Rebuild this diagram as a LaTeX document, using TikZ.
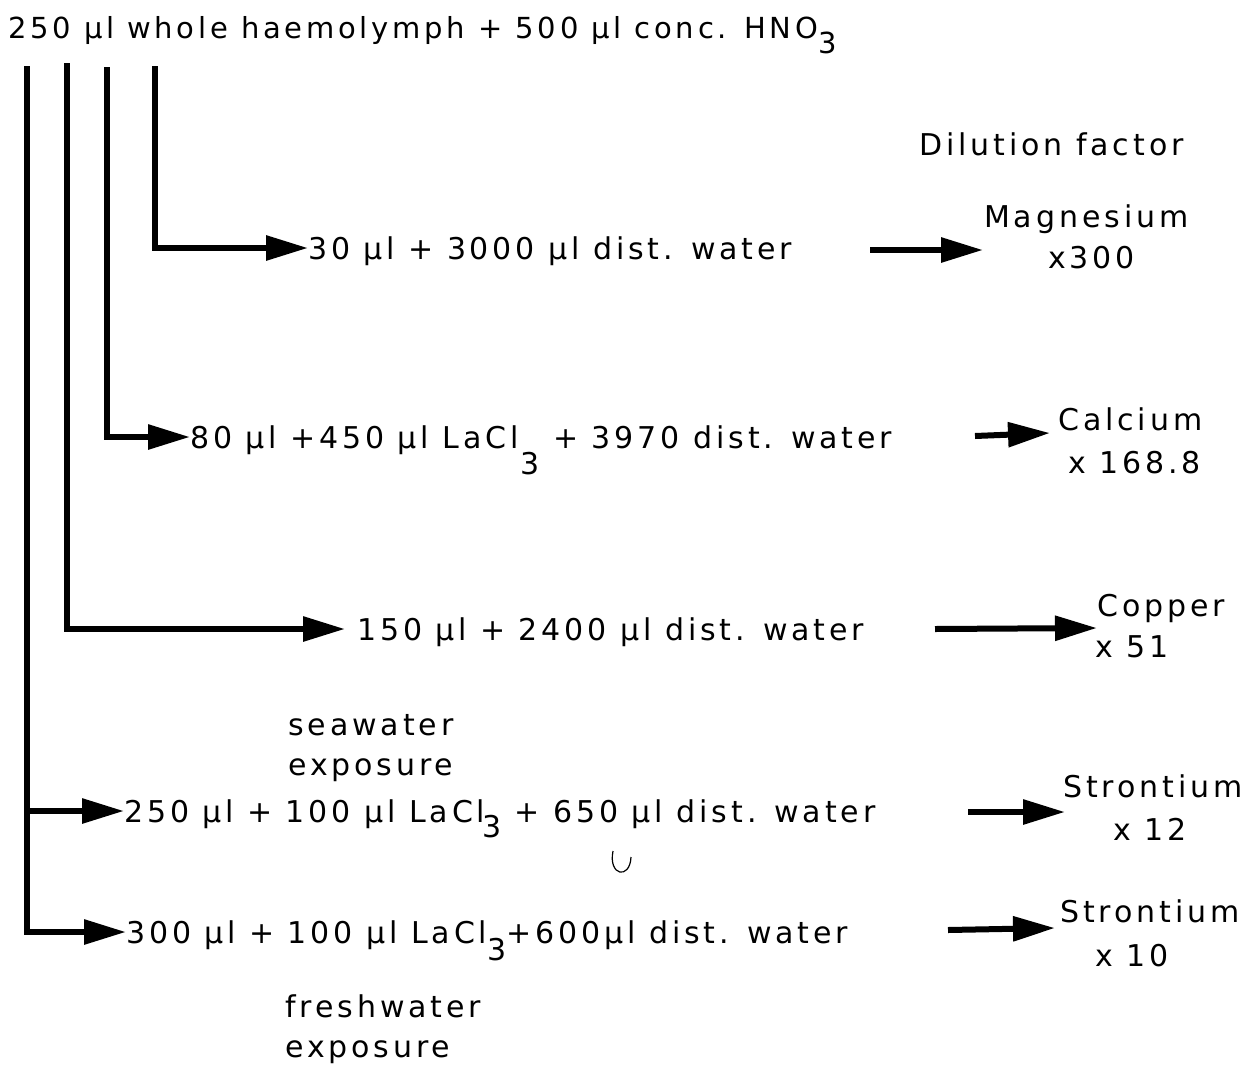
\documentclass[tikz,border=0pt]{standalone}
\usepackage{fontspec}
\setmainfont{DejaVu Sans}[LetterSpace=13]
\usetikzlibrary{arrows.meta}
\newcommand\lowdigit[2]{\raisebox{-#1}{#2}}
\begin{document}
\begin{tikzpicture}[x=1pt,y=-1pt,
  txt/.style={font=\fontsize{30}{36}\selectfont, inner sep=0pt, anchor=west,
              text height=22pt, text depth=0pt},
  ln/.style={line width=6pt, line cap=butt, line join=miter},
  arr/.style={ln, -{Triangle[length=42pt,width=24pt]}}]
\useasboundingbox (0,0) rectangle (1245,1066);

% source
\node[txt, font=\fontsize{29}{35}\selectfont] (title) at (8,27) {250 µl whole haemolymph + 500 µl conc. HNO\lowdigit{15pt}{3}};
\node[txt] (dil) at (919,144) {Dilution factor};

% dilution steps
\node[txt] (n1) at (308,248) {30 µl + 3000 µl dist. water};
\node[txt] (n2) at (190,437) {80 µl +450 µl LaCl\kern2pt\lowdigit{26pt}{3} + 3970 dist. water};
\node[txt] (n3) at (357,629) {150 µl + 2400 µl dist. water};
\node[txt] (n4) at (124,811) {250 µl + 100 µl LaCl\kern-3pt\lowdigit{15pt}{3} + 650 µl dist. water};
\node[txt] (n5) at (126,932) {300 µl + 100 µl LaCl\lowdigit{17pt}{3}+600µl dist. water};

\node[txt] (sea1) at (288,724) {seawater};
\node[txt] (sea2) at (288,764) {exposure};
\node[txt] (fw1) at (285,1006) {freshwater};
\node[txt] (fw2) at (285,1046) {exposure};

% results
\node[txt] (mg)  at (984,216) {Magnesium};
\node[txt] (mgx) at (1048,257) {x300};
\node[txt] (ca)  at (1058,419) {Calcium};
\node[txt] (cax) at (1068,462) {x 168.8};
\node[txt] (cu)  at (1097,605) {Copper};
\node[txt] (cux) at (1095,646) {x 51};
\node[txt] (sr1) at (1063,786) {Strontium};
\node[txt] (sr1x) at (1113,829) {x 12};
\node[txt] (sr2) at (1060,911) {Strontium};
\node[txt] (sr2x) at (1095,955) {x 10};

% branch tops
\coordinate (t1) at (155,66);
\coordinate (t2) at (107,67);
\coordinate (t3) at (67,63);
\coordinate (t4) at (27,66);

\draw[arr] (t1) |- (n1.west);
\draw[arr] (t2) |- (n2.west);
\draw[arr] (t3) |- ([xshift=-12pt]n3.west);
\draw[ln] (t4) |- (n5.west -| 40,0);
\draw[arr] (27,932) -- (n5.west);
\draw[arr] (27,811) -- (n4.west);

% result arrows
\coordinate (r1s) at (870,250); \coordinate (r1e) at (983,250);
\coordinate (r2s) at (975,436); \coordinate (r2e) at (1050,433);
\coordinate (r3s) at (935,629); \coordinate (r3e) at (1097,628);
\coordinate (r4s) at (968,812); \coordinate (r4e) at (1065,812);
\coordinate (r5s) at (948,930); \coordinate (r5e) at (1055,928);
\draw[arr] (r1s) -- (r1e);
\draw[arr] (r2s) -- (r2e);
\draw[arr] (r3s) -- (r3e);
\draw[arr] (r4s) -- (r4e);
\draw[arr] (r5s) -- (r5e);

% small mark
\draw[line width=1.2pt] (613,851) .. controls (608,876) and (630,880) .. (631,857);
\end{tikzpicture}
\end{document}
